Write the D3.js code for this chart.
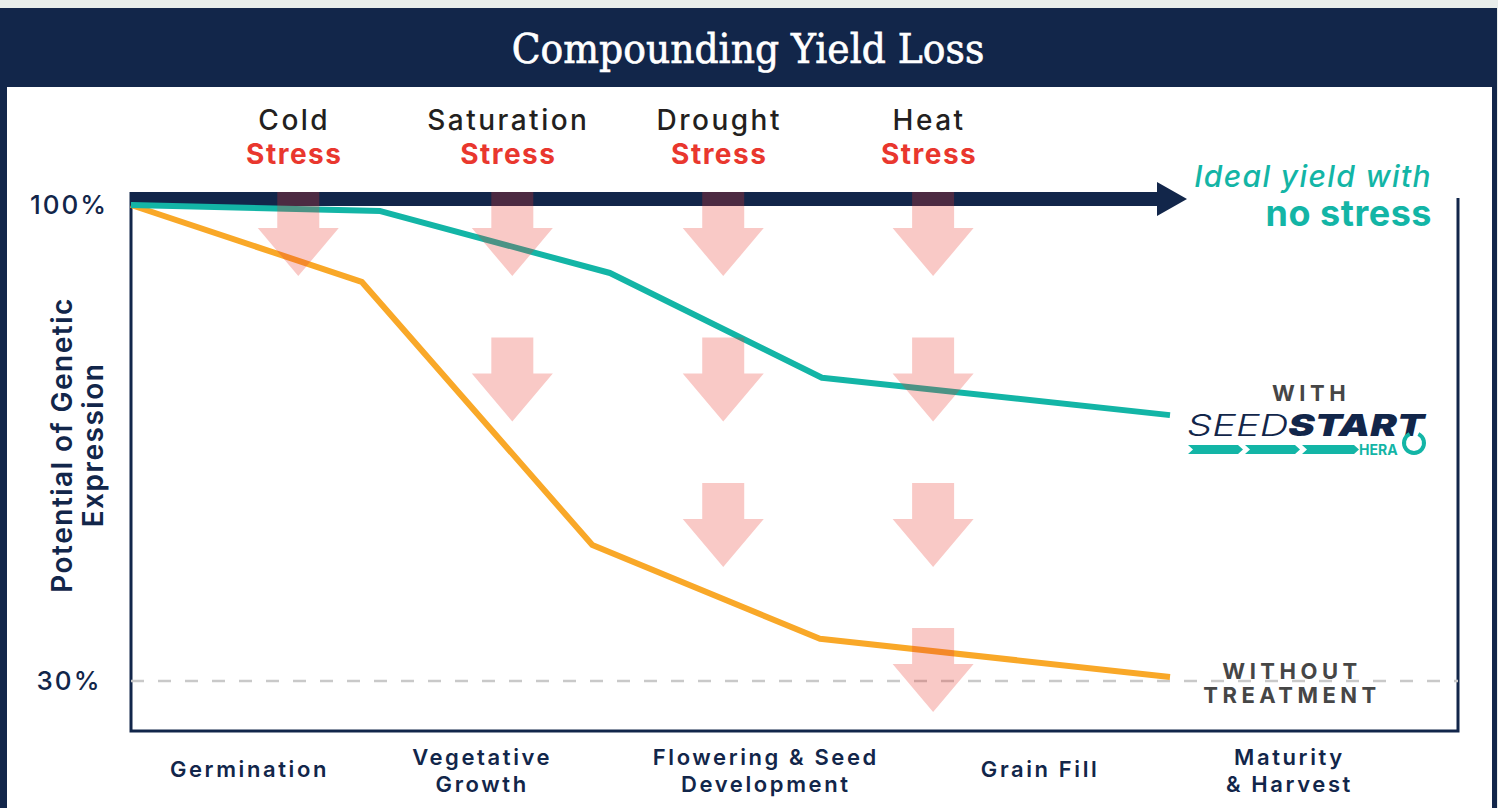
<!DOCTYPE html>
<html>
<head>
<meta charset="utf-8">
<script src="https://cdn.jsdelivr.net/npm/d3@7"></script>
<style>
  html, body { margin: 0; padding: 0; background: #e8edeb; }
  svg { display: block; }
</style>
</head>
<body>
<div id="chart"></div>
<script>
// growth stages along the bottom (position on a 0-100 season scale)
var stages = [["Germination"], ["Vegetative", "Growth"], ["Flowering & Seed", "Development"], ["Grain Fill"], ["Maturity", "& Harvest"]];
var stagePos = [11.4, 33.8, 61.1, 87.5, 111.5];

// stress events and how many arrows each one stacks up
var stresses = ["Cold", "Saturation", "Drought", "Heat"];
var stressPos = [16.1, 36.7, 57.0, 77.2];
var stressArrows = [1, 2, 3, 4];
var arrowRows = [101.9, 80.5, 59.1, 37.8]; // top of each arrow row, in % units

// yield lines
var seedstartT = [0, 24, 46.1, 66.5, 100];
var seedstartV = [100, 99.1, 90, 74.6, 69.1];
var untreatedT = [0, 22.2, 44.4, 66.3, 100];
var untreatedV = [100, 88.7, 50, 36.2, 30.6];

var yTicks = [100, 30];
var yTickLabels = ["100%", "30%"];

const width = 1498;
const height = 808;
const frame = {left: 131, right: 1458, top: 192, bottom: 731};
const navy = "#12264a", teal = "#13b5a6", orange = "#f9a828", red = "#e9372e", grey = "#464646";
const sans = "Inter, 'Noto Sans', sans-serif";

let svg = d3.select("#chart").append("svg")
	.attr("width", width)
	.attr("height", height);

// page / card
svg.append("rect").attr("width", width).attr("height", height).attr("fill", "#e8edeb");
svg.append("rect").attr("x", 0).attr("y", 8).attr("width", 1497).attr("height", height - 8).attr("fill", navy);
svg.append("rect").attr("x", 7).attr("y", 87).attr("width", 1485).attr("height", height - 87).attr("fill", "#fff");

svg.append("text")
	.attr("transform", "translate(748,63) scale(0.92,1)")
	.attr("text-anchor", "middle")
	.attr("fill", "#fff")
	.attr("stroke", "#fff")
	.attr("stroke-width", 0.7)
	.style("font-family", "'DejaVu Serif', serif")
	.style("font-size", "41px")
	.text("Compounding Yield Loss");

let xScale = d3.scaleLinear().domain([0, 100]).range([frame.left, 1170]);
let yScale = d3.scaleLinear().domain([30, 100]).range([681, 205]);

// frame (left, bottom, right)
svg.append("path")
	.attr("d", `M${frame.left},${frame.top}V${frame.bottom}H${frame.right}V198`)
	.attr("fill", "none")
	.attr("stroke", navy)
	.attr("stroke-width", 3);

// 30% dashed guide
svg.append("line")
	.attr("x1", frame.left).attr("x2", frame.right)
	.attr("y1", yScale(30)).attr("y2", yScale(30))
	.attr("stroke", "#c9c9c9")
	.attr("stroke-width", 2.5)
	.attr("stroke-dasharray", "13,14");

// ideal yield arrow along the top
svg.append("path")
	.attr("d", `M${frame.left},192H1157V182L1187,199L1157,216V206H${frame.left}Z`)
	.attr("fill", navy);

// y tick labels
svg.selectAll(".ytick")
	.data(yTicks)
	.enter().append("text")
	.attr("class", "ytick")
	.attr("x", 69)
	.attr("y", d => yScale(d))
	.attr("dy", "0.36em")
	.attr("text-anchor", "middle")
	.attr("fill", navy)
	.style("font-family", sans)
	.style("font-size", "26px")
	.style("font-weight", 500)
	.style("letter-spacing", "2px")
	.text((d, i) => yTickLabels[i]);

// y axis title
let yTitle = svg.append("text")
	.attr("transform", "translate(62,445) rotate(-90)")
	.attr("text-anchor", "middle")
	.attr("fill", navy)
	.style("font-family", sans)
	.style("font-size", "28px")
	.style("font-weight", 600)
	.style("letter-spacing", "1.5px");
yTitle.append("tspan").attr("x", 0).attr("dy", "0.36em").text("Potential of Genetic");
yTitle.append("tspan").attr("x", 0).attr("dy", "1.1em").text("Expression");

// stage labels
stages.forEach(function(lines, i) {
	let t = svg.append("text")
		.attr("x", xScale(stagePos[i]))
		.attr("text-anchor", "middle")
		.attr("fill", navy)
		.style("font-family", sans)
		.style("font-size", "22px")
		.style("font-weight", 600)
		.style("letter-spacing", "2.6px");
	let y0 = lines.length > 1 ? 765 : 777;
	lines.forEach(function(l, j) {
		t.append("tspan").attr("x", xScale(stagePos[i])).attr("y", y0 + j * 27).text(l);
	});
});

// lines
let line = d3.line().x(d => xScale(d[0])).y(d => yScale(d[1]));
svg.append("path")
	.datum(untreatedT.map((t, i) => [t, untreatedV[i]]))
	.attr("d", line)
	.attr("fill", "none")
	.attr("stroke", orange)
	.attr("stroke-width", 6)
	.attr("stroke-linejoin", "round");
svg.append("path")
	.datum(seedstartT.map((t, i) => [t, seedstartV[i]]))
	.attr("d", line)
	.attr("fill", "none")
	.attr("stroke", teal)
	.attr("stroke-width", 6)
	.attr("stroke-linejoin", "round");

// stress headings
stresses.forEach(function(s, i) {
	let x = xScale(stressPos[i]) - 4;
	let t = svg.append("text")
		.attr("text-anchor", "middle")
		.style("font-family", sans)
		.style("font-size", "28px");
	t.append("tspan")
		.attr("x", x).attr("y", 130)
		.attr("fill", "#231f20")
		.style("font-weight", 500)
		.style("letter-spacing", "2.5px")
		.text(s);
	t.append("tspan")
		.attr("x", x).attr("y", 164)
		.attr("fill", red)
		.style("font-weight", 700)
		.style("letter-spacing", "1.5px")
		.text("Stress");
});

// stress arrows (drawn over the lines, translucent)
function arrowPath(cx, top) {
	let sw = 21, sh = 36, hw = 40.5, hh = 48;
	return `M${cx - sw},${top}H${cx + sw}V${top + sh}H${cx + hw}L${cx},${top + sh + hh}L${cx - hw},${top + sh}H${cx - sw}Z`;
}
let arrows = [];
stresses.forEach(function(s, i) {
	for (let r = 0; r < stressArrows[i]; r++) arrows.push({pos: stressPos[i], row: arrowRows[r]});
});
svg.selectAll(".stress-arrow")
	.data(arrows)
	.enter().append("path")
	.attr("class", "stress-arrow")
	.attr("d", d => arrowPath(xScale(d.pos), yScale(d.row)))
	.attr("fill", red)
	.attr("fill-opacity", 0.27);

// right-hand annotations
let ideal = svg.append("text")
	.attr("text-anchor", "end")
	.attr("fill", teal)
	.style("font-family", sans);
ideal.append("tspan")
	.attr("x", 1432).attr("y", 187)
	.style("font-size", "30px")
	.style("font-style", "italic")
	.style("font-weight", 500)
	.style("letter-spacing", "1.4px")
	.text("Ideal yield with");
ideal.append("tspan")
	.attr("x", 1432).attr("y", 226)
	.style("font-size", "36px")
	.style("font-weight", 700)
	.style("letter-spacing", "0.5px")
	.text("no stress");

function spaced(lines, x, y) {
	let t = svg.append("text")
		.attr("text-anchor", "middle")
		.attr("fill", grey)
		.style("font-family", sans)
		.style("font-size", "22px")
		.style("font-weight", 700)
		.style("letter-spacing", "4.5px");
	lines.forEach(function(l, j) {
		t.append("tspan").attr("x", x).attr("y", y + j * 24).text(l);
	});
}
spaced(["WITH"], 1311, 401);
spaced(["WITHOUT", "TREATMENT"], 1292, 679);

// SEEDSTART HERA logo
let logo = svg.append("text")
	.attr("transform", "translate(1187,436) scale(1.33,1)")
	.attr("fill", navy)
	.style("font-family", sans)
	.style("font-size", "30px")
	.style("font-style", "italic");
logo.append("tspan").style("font-weight", 300).text("SEED");
logo.append("tspan").style("font-weight", 900).text("START");

let chevrons = [1188, 1245, 1302];
svg.selectAll(".chev")
	.data(chevrons)
	.enter().append("path")
	.attr("class", "chev")
	.attr("d", (d, i) => {
		let len = i === 2 ? 52 : 50;
		return `M${d},445H${d + len}L${d + len + 5},449.5L${d + len},454H${d}L${d + 5},449.5Z`;
	})
	.attr("fill", teal);
svg.append("text")
	.attr("x", 1359).attr("y", 455)
	.attr("fill", teal)
	.style("font-family", sans)
	.style("font-size", "14px")
	.style("font-weight", 700)
	.text("HERA");
svg.append("path")
	.attr("d", d3.arc().innerRadius(8).outerRadius(12).startAngle(0.45).endAngle(2 * Math.PI - 0.45)())
	.attr("transform", "translate(1414,443)")
	.attr("fill", teal);
</script>
</body>
</html>
